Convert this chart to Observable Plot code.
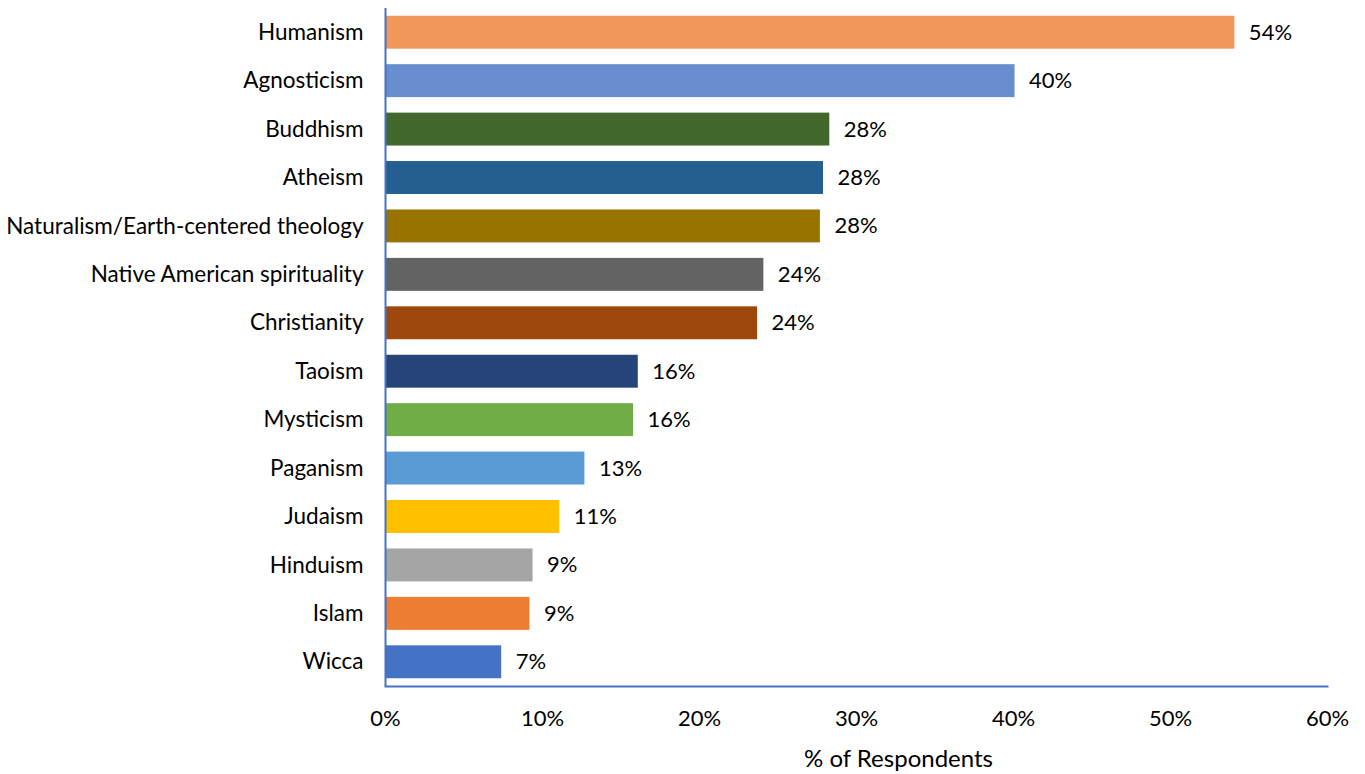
<!DOCTYPE html>
<html>
<head>
<meta charset="utf-8">
<script src="https://cdn.jsdelivr.net/npm/d3@7"></script>
<script src="https://cdn.jsdelivr.net/npm/@observablehq/plot@0.6"></script>
<style>
  html, body { margin: 0; padding: 0; background: #fff; }
  svg { font-family: Lato, "Open Sans", sans-serif; }
</style>
</head>
<body>
<div id="chart"></div>
<script>
const categories = ["Humanism", "Agnosticism", "Buddhism", "Atheism", "Naturalism/Earth-centered theology", "Native American spirituality", "Christianity", "Taoism", "Mysticism", "Paganism", "Judaism", "Hinduism", "Islam", "Wicca"];
const values = [54.1, 40.1, 28.3, 27.9, 27.7, 24.1, 23.7, 16.1, 15.8, 12.7, 11.1, 9.4, 9.2, 7.4];
const colors = ["#F1975A", "#698ED0", "#43682B", "#255E91", "#997300", "#636363", "#9E480E", "#264478", "#70AD47", "#5B9BD5", "#FFC000", "#A5A5A5", "#ED7D31", "#4472C4"];
const xTicks = [0, 10, 20, 30, 40, 50, 60];
const xTitle = "% of Respondents";

const data = categories.map((c, i) => ({category: c, value: values[i], color: colors[i]}));

const chart = Plot.plot({
  width: 1365,
  height: 774,
  marginTop: 8,
  marginBottom: 88,
  marginLeft: 385,
  marginRight: 38,
  style: {fontSize: "22px", fontFamily: "Lato, 'Open Sans', sans-serif", color: "#000"},
  x: {domain: [0, 60], ticks: xTicks, tickFormat: d => d + "%"},
  y: {domain: categories, paddingInner: 0.32, paddingOuter: 0.16, round: false},
  marks: [
    Plot.barX(data, {y: "category", x: "value", fill: "color"}),
    Plot.text(data, {y: "category", x: "value", text: d => d3.format(".0f")(d.value) + "%", textAnchor: "start", dx: 14, fontSize: 22, fill: "#000"}),
    Plot.axisY({tickSize: 0, tickPadding: 22, label: null, fontSize: 22.5}),
    Plot.axisX({ticks: xTicks, tickFormat: d => d + "%", tickSize: 0, tickPadding: 24, label: null, fontSize: 22}),
    Plot.text([xTitle], {frameAnchor: "bottom", dx: 42, dy: 80, fontSize: 24, fill: "#000"}),
    Plot.frame({anchor: "bottom", stroke: "#4472C4", strokeWidth: 2}),
    Plot.ruleX([0], {stroke: "#4472C4", strokeWidth: 2})
  ]
});
document.getElementById("chart").appendChild(chart);
</script>
</body>
</html>
